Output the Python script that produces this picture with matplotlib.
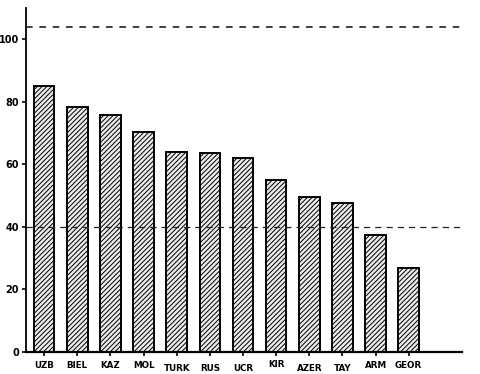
import numpy as np
import matplotlib.pyplot as plt

regions = ['UZB', 'BIEL', 'KAZ', 'MOL', 'TURK', 'RUS', 'UCR', 'KIR', 'AZER', 'TAY', 'ARM', 'GEOR']
values = [85, 78.3, 75.7, 70.3, 63.9, 63.6, 62, 55, 49.5, 47.6, 37.4, 26.8]
label_drop = [0, 0, 0, 0, 1, 1, 1, -0.3, 1, 1, 0, 0]
ref_low = 40
ref_high = 104

fig = plt.figure(figsize=(4.8, 3.74), dpi=100)
ax = fig.add_axes([0.054, 0.059, 0.908, 0.92])

x = np.arange(len(regions))
plt.rcParams['hatch.linewidth'] = 0.7
ax.bar(x, values, width=0.62, color='#ececec', edgecolor='black',
       hatch='///////', linewidth=1.4, zorder=2)

ax.axhline(ref_low, color='#222222', lw=0.9, ls=(0, (5, 4)), zorder=3)
ax.axhline(ref_high, color='#222222', lw=1.2, ls=(0, (4, 4)), zorder=3)

ax.set_xlim(-0.55, 12.6)
ax.set_ylim(0, 110)
ax.set_yticks([0, 20, 40, 60, 80, 100])
ax.set_yticklabels(['0', '20', '40', '60', '80', '100'], fontsize=7, fontweight='bold')
ax.set_xticks(x)
ax.set_xticklabels([])
ax.tick_params(axis='both', direction='out', length=3, width=1.2, pad=2)
for xi, name, d in zip(x, regions, label_drop):
    ax.text(xi, -3.0 - 1.0 * d, name, ha='center', va='top', fontsize=6.3,
            fontweight='bold', clip_on=False)

ax.spines['top'].set_visible(False)
ax.spines['right'].set_visible(False)
ax.spines['left'].set_linewidth(1.3)
ax.spines['bottom'].set_linewidth(1.6)

fig.savefig('out.png', dpi=100)
